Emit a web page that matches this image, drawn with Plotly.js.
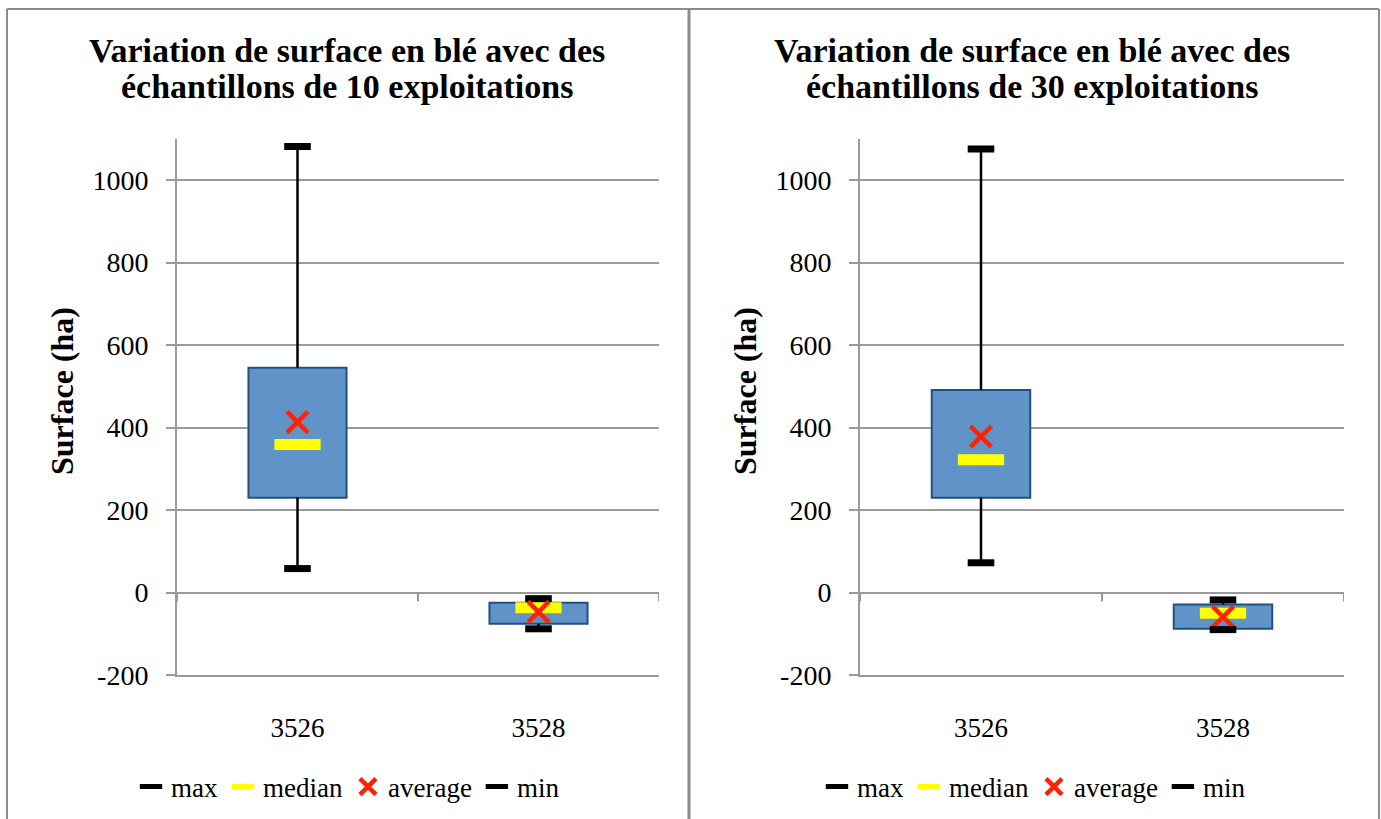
<!DOCTYPE html>
<html><head><meta charset="utf-8">
<script src="https://cdn.plot.ly/plotly-3.0.1.min.js"></script>
<style>html,body{margin:0;padding:0;background:#fff;} #chart{width:1381px;height:819px;}</style>
</head><body><div id="chart"></div>
<script>
const categories = ['3526', '3528'];
const titleLines10 = ['Variation de surface en blé avec des', 'échantillons de 10 exploitations'];
const titleLines30 = ['Variation de surface en blé avec des', 'échantillons de 30 exploitations'];
// samples of 10 farms
const max10 = [1081, -15];
const q3_10 = [545, -25];
const median10 = [359, -37];
const average10 = [413, -47];
const q1_10 = [230, -76];
const min10 = [58, -88];
// samples of 30 farms
const max30 = [1075, -18];
const q3_30 = [491, -29];
const median30 = [322, -50];
const average30 = [378, -59];
const q1_30 = [230, -88];
const min30 = [72, -90];
const yTickVals = [-200, 0, 200, 400, 600, 800, 1000];
const yTickText = ['-200', '0', '200', '400', '600', '800', '1000'];
const yTitle = 'Surface (ha)';
const legendNames = ['max', 'median', 'average', 'min'];

const FONT = 'Liberation Serif, Times New Roman, serif';
const GRID = '#9a9a9a';
const W = 1381, H = 819;

function panelTraces(xa, ya, leg, mx, q3, med, avg, q1, mn) {
  const traces = [];
  traces.push({
    type: 'bar', x: categories, base: q1, y: q3.map((v, i) => v - q1[i]),
    width: 0.407, xaxis: xa, yaxis: ya, showlegend: false, hoverinfo: 'skip',
    marker: {color: '#6094c8', line: {color: '#234f7f', width: 2}}
  });
  const wx = [], wy = [];
  categories.forEach((c, i) => {
    wx.push(c, c, null, c, c, null);
    wy.push(mx[i], q3[i], null, q1[i], mn[i], null);
  });
  traces.push({type: 'scatter', mode: 'lines', x: wx, y: wy, xaxis: xa, yaxis: ya,
    showlegend: false, hoverinfo: 'skip', line: {color: '#000', width: 2.5}});
  const cap = {symbol: 'line-ew', size: 19, color: '#000', line: {color: '#000', width: 7}};
  traces.push({type: 'scatter', mode: 'markers', name: legendNames[0], x: categories, y: mx,
    xaxis: xa, yaxis: ya, legend: leg, marker: cap});
  traces.push({type: 'scatter', mode: 'markers', name: legendNames[1], x: categories, y: med,
    xaxis: xa, yaxis: ya, legend: leg,
    marker: {symbol: 'line-ew', size: 33, color: '#ffff00', line: {color: '#ffff00', width: 11}}});
  traces.push({type: 'scatter', mode: 'markers', name: legendNames[2], x: categories, y: avg,
    xaxis: xa, yaxis: ya, legend: leg,
    marker: {symbol: 'x-thin', size: 21, color: '#ff2200', line: {color: '#ff2200', width: 4.5}}});
  traces.push({type: 'scatter', mode: 'markers', name: legendNames[3], x: categories, y: mn,
    xaxis: xa, yaxis: ya, legend: leg, marker: cap});
  return traces;
}

const data = [].concat(
  panelTraces('x', 'y', 'legend', max10, q3_10, median10, average10, q1_10, min10),
  panelTraces('x2', 'y2', 'legend2', max30, q3_30, median30, average30, q1_30, min30)
);

function xAxis(domain, anchor) {
  return {domain: domain, anchor: anchor, type: 'category', range: [-0.5, categories.length - 0.5],
    showline: true, linecolor: GRID, linewidth: 2, ticks: '', showgrid: false, zeroline: false,
    tickfont: {family: FONT, size: 27, color: '#000'}, ticklabelstandoff: 28, fixedrange: true};
}
function yAxis(anchor) {
  return {domain: [144 / H, 680.25 / H], anchor: anchor, range: [-200, 1100],
    tickmode: 'array', tickvals: yTickVals, ticktext: yTickText,
    showgrid: true, gridcolor: GRID, gridwidth: 2, zeroline: true, zerolinecolor: GRID, zerolinewidth: 2,
    showline: true, linecolor: GRID, linewidth: 2, ticks: 'outside', ticklen: 9, tickwidth: 2, tickcolor: GRID,
    tickfont: {family: FONT, size: 28, color: '#000'}, ticklabelstandoff: 12, fixedrange: true};
}

const shapes = [];
// category boundary ticks on the zero line
['x', 'x2'].forEach((xr, k) => {
  const yr = k === 0 ? 'y' : 'y2';
  for (let i = 0; i <= categories.length; i++) {
    shapes.push({type: 'line', xref: xr, yref: yr, x0: i - 0.5, x1: i - 0.5,
      ysizemode: 'pixel', yanchor: 0, y0: 0, y1: -9, line: {color: GRID, width: 2}});
  }
});
// panel borders
const bc = '#8c8c8c';
shapes.push({type: 'line', xref: 'paper', yref: 'paper', x0: 7 / W, x1: 1379 / W, y0: 1 - 9 / H, y1: 1 - 9 / H, line: {color: bc, width: 2}});
[7, 689, 1379].forEach((px, i) => {
  shapes.push({type: 'line', xref: 'paper', yref: 'paper', x0: px / W, x1: px / W, y0: 0, y1: 1 - 9 / H,
    line: {color: bc, width: i === 1 ? 3 : 2}});
});

const annotations = [];
[[titleLines10, 347, 62], [titleLines30, 1032, 745]].forEach(([lines, cx, ytx]) => {
  lines.forEach((t, j) => {
    annotations.push({xref: 'paper', yref: 'paper', x: cx / W, y: 1 - (50 + j * 37) / H,
      xanchor: 'center', yanchor: 'middle', showarrow: false, text: '<b>' + t + '</b>',
      font: {family: FONT, size: 34, color: '#000'}});
  });
  annotations.push({xref: 'paper', yref: 'paper', x: ytx / W, y: 1 - 391 / H,
    xanchor: 'center', yanchor: 'middle', showarrow: false, textangle: -90,
    text: '<b>' + yTitle + '</b>', font: {family: FONT, size: 32, color: '#000'}});
});

const legendBase = {orientation: 'h', xanchor: 'center', yanchor: 'middle', y: 1 - 787 / H,
  bgcolor: 'rgba(0,0,0,0)', font: {family: FONT, size: 27, color: '#000'}, itemclick: false, itemdoubleclick: false};

const layout = {
  width: W, height: H, margin: {l: 0, r: 0, t: 0, b: 0},
  paper_bgcolor: '#fff', plot_bgcolor: 'rgba(0,0,0,0)',
  font: {family: FONT, color: '#000'},
  barmode: 'overlay',
  xaxis: xAxis([177 / W, 659 / W], 'y'),
  yaxis: yAxis('x'),
  xaxis2: xAxis([860 / W, 1344 / W], 'y2'),
  yaxis2: yAxis('x2'),
  legend: Object.assign({}, legendBase, {x: 348 / W}),
  legend2: Object.assign({}, legendBase, {x: 1034 / W}),
  shapes: shapes, annotations: annotations, hovermode: false
};

Plotly.newPlot('chart', data, layout, {displayModeBar: false, staticPlot: true});
</script></body></html>
